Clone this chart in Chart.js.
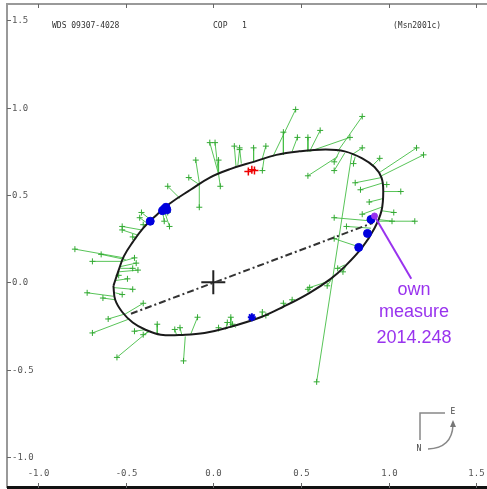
<!DOCTYPE html>
<html>
<head>
<meta charset="utf-8">
<script src="https://cdn.jsdelivr.net/npm/chart.js@4"></script>
<style>
  html, body { margin: 0; padding: 0; background: #fff; }
  #orbitChart { display: block; }
</style>
</head>
<body>
<canvas id="orbitChart" width="487" height="489"></canvas>
<script>
// orbit plot WDS 09307-4028 / COP 1

const tickValues = [-1.0, -0.5, 0.0, 0.5, 1.0, 1.5];
const tickLabels = ['-1.0', '-0.5', '0.0', '0.5', '1.0', '1.5'];
const headerTexts = ['WDS 09307-4028', 'COP   1', '(Msn2001c)'];

// apparent orbit
const orbitX = [-0.57, -0.56, -0.52, -0.46, -0.39, -0.30, -0.16, -0.05, 0.08, 0.27, 0.40, 0.55,
  0.67, 0.75, 0.85, 0.92, 0.96, 0.97, 0.96, 0.92, 0.85, 0.75, 0.64, 0.49, 0.36, 0.23,
  0.10, -0.02, -0.13, -0.25, -0.33, -0.40, -0.46, -0.51, -0.54, -0.57];
const orbitY = [-0.02, -0.10, -0.17, -0.23, -0.27, -0.30, -0.30, -0.29, -0.26, -0.20, -0.14, -0.06,
  0.02, 0.09, 0.20, 0.31, 0.41, 0.52, 0.60, 0.66, 0.71, 0.75, 0.76, 0.75, 0.73, 0.69,
  0.65, 0.60, 0.53, 0.45, 0.38, 0.31, 0.23, 0.15, 0.07, -0.02];

// line of nodes
const nodeX = [-0.47, 0.91];
const nodeY = [-0.18, 0.34];

// micrometer / photographic measures (green) and their place on the orbit
const obsX = [-0.79, -0.64, -0.69, -0.45, -0.44, -0.46, -0.43, -0.54, -0.49, -0.72, -0.63, -0.52, -0.46,
  -0.60, -0.40, -0.69, -0.55, -0.45, -0.32, -0.40, -0.52, -0.46, -0.52, -0.41, -0.42, -0.40,
  -0.26, -0.25, -0.28, -0.26, -0.14, -0.10, -0.08, -0.02, 0.01, 0.04, 0.03, 0.12, 0.15, 0.15,
  0.23, 0.30, 0.28, 0.47, 0.40, 0.48, 0.54, 0.61, 0.78, 0.85, 0.85, 0.69, 0.69, 0.80, 0.54,
  1.16, 1.20, 0.95, 0.81, 0.84, 0.99, 1.07, 0.89, 0.85, 1.03, 1.02, 1.15, 0.69, 0.76, 0.69,
  0.71, 0.74, 0.55, 0.65, 0.40, 0.45, 0.54, 0.59, -0.09, -0.17, -0.22, -0.19, 0.03, 0.08,
  0.10, 0.11, 0.28, 0.30];
const obsY = [0.19, 0.16, 0.12, 0.14, 0.11, 0.08, 0.07, 0.04, 0.02, -0.06, -0.09, -0.07, -0.04,
  -0.21, -0.12, -0.29, -0.43, -0.28, -0.24, -0.30, 0.30, 0.26, 0.32, 0.40, 0.37, 0.33,
  0.40, 0.32, 0.35, 0.55, 0.60, 0.70, 0.43, 0.80, 0.80, 0.55, 0.70, 0.78, 0.76, 0.77,
  0.77, 0.78, 0.64, 0.99, 0.86, 0.83, 0.83, 0.87, 0.83, 0.95, 0.77, 0.69, 0.64, 0.68, 0.61,
  0.77, 0.73, 0.71, 0.57, 0.53, 0.56, 0.52, 0.46, 0.39, 0.40, 0.35, 0.35, 0.37, 0.32, 0.25,
  0.08, 0.06, -0.03, -0.02, -0.12, -0.10, -0.04, -0.57, -0.20, -0.45, -0.27, -0.26, -0.26, -0.23,
  -0.20, -0.24, -0.17, -0.19];
const fitX = [-0.51, -0.50, -0.52, -0.52, -0.53, -0.53, -0.54, -0.56, -0.56, -0.57, -0.56, -0.56, -0.57,
  -0.50, -0.50, -0.48, -0.37, -0.38, -0.32, -0.36, -0.43, -0.44, -0.41, -0.36, -0.38, -0.39,
  -0.28, -0.28, -0.29, -0.19, -0.08, -0.08, -0.08, 0.03, 0.03, 0.03, 0.03, 0.13, 0.14, 0.16,
  0.23, 0.28, 0.29, 0.34, 0.40, 0.45, 0.54, 0.55, 0.55, 0.71, 0.79, 0.72, 0.75, 0.81, 0.71,
  0.95, 0.96, 0.91, 0.96, 0.97, 0.97, 0.97, 0.97, 0.96, 0.96, 0.94, 0.94, 0.92, 0.90, 0.84,
  0.75, 0.76, 0.67, 0.67, 0.41, 0.44, 0.55, 0.79, -0.13, -0.16, -0.21, -0.18, 0.03, 0.07,
  0.10, 0.13, 0.28, 0.30];
const fitY = [0.14, 0.13, 0.12, 0.12, 0.09, 0.08, 0.06, 0.02, 0.01, -0.08, -0.10, -0.06, -0.03,
  -0.18, -0.18, -0.21, -0.28, -0.27, -0.29, -0.28, 0.27, 0.25, 0.30, 0.36, 0.34, 0.32,
  0.41, 0.41, 0.41, 0.48, 0.56, 0.57, 0.57, 0.62, 0.62, 0.62, 0.62, 0.66, 0.67, 0.68,
  0.69, 0.71, 0.71, 0.72, 0.73, 0.75, 0.75, 0.75, 0.75, 0.75, 0.73, 0.75, 0.74, 0.72, 0.72,
  0.63, 0.61, 0.67, 0.60, 0.57, 0.56, 0.52, 0.48, 0.43, 0.41, 0.36, 0.35, 0.35, 0.31, 0.20,
  0.10, 0.10, 0.01, 0.01, -0.13, -0.12, -0.06, 0.73, -0.30, -0.31, -0.30, -0.30, -0.28, -0.27,
  -0.26, -0.26, -0.20, -0.19];

// interferometric measures (blue)
const blueX = [-0.36, -0.29, -0.27, -0.28, -0.265, 0.83, 0.88, 0.90];
const blueY = [0.35, 0.41, 0.43, 0.42, 0.415, 0.20, 0.28, 0.36];
const starX = [0.22];
const starY = [-0.20];

// red measures
const redX = [0.20, 0.22, 0.235];
const redY = [0.635, 0.645, 0.64];

// own measure 2014.248
const ownX = [0.92];
const ownY = [0.38];
const arrowX = [0.92, 1.13];
const arrowY = [0.38, 0.02];
const noteLines = ['own', 'measure', '2014.248'];
const noteX = 1.146;
const noteY = [-0.07, -0.20, -0.35];

const toPoints = (xs, ys) => xs.map((v, i) => ({x: v, y: ys[i]}));

// residual segments: observed point -> orbit point, broken by gaps
const residualData = [];
obsX.forEach((v, i) => {
  residualData.push({x: v, y: obsY[i], o: true});
  residualData.push({x: fitX[i], y: fitY[i]});
  residualData.push({x: null, y: null});
});

const orbitDecor = {
  id: 'orbitDecor',
  afterDraw(chart) {
    const {ctx, chartArea: a, scales: {x, y}} = chart;
    ctx.save();

    // frame
    ctx.strokeStyle = '#999';
    ctx.lineWidth = 2;
    ctx.beginPath();
    ctx.moveTo(a.left, a.bottom);
    ctx.lineTo(a.left, a.top);
    ctx.lineTo(a.right, a.top);
    ctx.stroke();
    ctx.strokeStyle = '#111';
    ctx.lineWidth = 3;
    ctx.beginPath();
    ctx.moveTo(a.left, a.bottom - 0.5);
    ctx.lineTo(a.right, a.bottom - 0.5);
    ctx.stroke();

    // ticks and labels
    ctx.strokeStyle = '#666';
    ctx.lineWidth = 1;
    ctx.fillStyle = '#555';
    ctx.font = '9px "DejaVu Sans Mono"';
    tickValues.forEach((v, i) => {
      const px = Math.round(x.getPixelForValue(v)) + 0.5;
      ctx.beginPath();
      ctx.moveTo(px, a.top); ctx.lineTo(px, a.top + 4);
      ctx.moveTo(px, a.bottom - 5); ctx.lineTo(px, a.bottom);
      ctx.stroke();
      ctx.textAlign = 'center';
      ctx.textBaseline = 'middle';
      ctx.fillText(tickLabels[i], px, a.bottom - 14);

      const py = Math.round(y.getPixelForValue(v)) + 0.5;
      ctx.beginPath();
      ctx.moveTo(a.left, py); ctx.lineTo(a.left + 4, py);
      ctx.stroke();
      ctx.textAlign = 'left';
      ctx.fillText(tickLabels[i], a.left + 5, py);
    });

    // header
    ctx.fillStyle = '#333';
    ctx.font = '8px "DejaVu Sans Mono"';
    ctx.textAlign = 'left';
    ctx.fillText(headerTexts[0], 52, 26);
    ctx.fillText(headerTexts[1], 213, 26);
    ctx.fillText(headerTexts[2], 393, 26);

    // note for own measure
    ctx.fillStyle = '#9933ee';
    ctx.font = '18px "Liberation Sans"';
    ctx.textAlign = 'center';
    ctx.textBaseline = 'alphabetic';
    noteLines.forEach((t, i) => {
      ctx.fillText(t, x.getPixelForValue(noteX), y.getPixelForValue(noteY[i]));
    });

    // N / E orientation mark
    ctx.strokeStyle = '#888';
    ctx.lineWidth = 1.5;
    ctx.beginPath();
    ctx.moveTo(445, 413); ctx.lineTo(420, 413); ctx.lineTo(420, 440);
    ctx.stroke();
    ctx.beginPath();
    ctx.moveTo(428, 449);
    ctx.quadraticCurveTo(452, 448, 453, 425);
    ctx.stroke();
    ctx.fillStyle = '#777';
    ctx.beginPath();
    ctx.moveTo(453, 420); ctx.lineTo(450, 427); ctx.lineTo(456, 427);
    ctx.closePath();
    ctx.fill();
    ctx.fillStyle = '#444';
    ctx.font = '8px "DejaVu Sans Mono"';
    ctx.textBaseline = 'middle';
    ctx.fillText('E', 453, 412);
    ctx.fillText('N', 419, 449);

    ctx.restore();
  }
};

const orbitChart = new Chart(document.getElementById('orbitChart'), {
  type: 'scatter',
  data: {
    datasets: [
      {
        data: toPoints(arrowX, arrowY),
        showLine: true, borderColor: '#9933ee', borderWidth: 2, pointRadius: 0
      },
      {
        data: toPoints(ownX, ownY),
        pointRadius: 3, backgroundColor: '#9933ee', borderColor: '#9933ee'
      },
      {
        data: toPoints(blueX, blueY),
        pointRadius: 4, backgroundColor: '#0000dd', borderColor: '#0000dd'
      },
      {
        data: toPoints(starX, starY),
        pointStyle: 'star', pointRadius: 4, borderWidth: 2, borderColor: '#0000dd'
      },
      {
        data: toPoints(redX, redY),
        pointStyle: 'cross', pointRadius: 4, borderWidth: 1.5, borderColor: '#ee0000'
      },
      {
        data: toPoints(orbitX, orbitY),
        showLine: true, tension: 0.4, borderColor: '#1a1a1a', borderWidth: 2, pointRadius: 0
      },
      {
        data: toPoints(nodeX, nodeY),
        showLine: true, borderColor: '#333', borderWidth: 2, borderDash: [7, 3, 2, 3], pointRadius: 0
      },
      {
        data: [{x: 0, y: 0}],
        pointStyle: 'cross', pointRadius: 12, borderWidth: 2, borderColor: '#222'
      },
      {
        data: residualData,
        showLine: true, spanGaps: false,
        borderColor: 'rgba(70, 190, 70, 0.9)', borderWidth: 1,
        pointStyle: 'cross',
        pointRadius: ctx => (ctx.raw && ctx.raw.o) ? 3 : 0,
        pointBorderColor: '#33aa33', pointBorderWidth: 1
      }
    ]
  },
  options: {
    responsive: false,
    animation: false,
    events: [],
    layout: { autoPadding: false, padding: { left: 7, top: 4, right: 0, bottom: 1 } },
    plugins: { legend: { display: false }, tooltip: { enabled: false } },
    scales: {
      x: { type: 'linear', min: -1.1775, max: 1.5622, display: false },
      y: { type: 'linear', min: -1.178, max: 1.594, display: false }
    }
  },
  plugins: [orbitDecor]
});
</script>
</body>
</html>
